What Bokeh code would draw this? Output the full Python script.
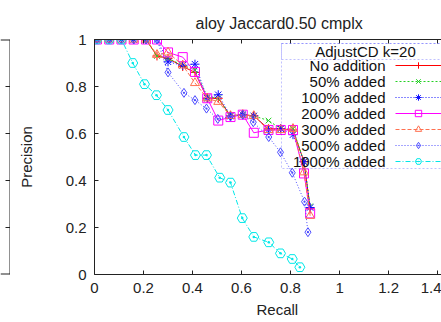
from bokeh.plotting import figure
from bokeh.layouts import row
from bokeh.models import (Range1d, FixedTicker, LinearAxis, Label, BoxAnnotation,
                          Legend, LegendItem, CustomJSTickFormatter, Span, Title)
from bokeh.embed import file_html
from bokeh.resources import INLINE

# ---------------- data ----------------
title_text = "aloy Jaccard0.50 cmplx"
x_label = "Recall"
y_label = "Precision"
legend_title = "AdjustCD k=20"
x_ticks = [0, 0.2, 0.4, 0.6, 0.8, 1.0, 1.2, 1.4]
y_ticks = [0, 0.2, 0.4, 0.6, 0.8, 1.0]

series_names = ["No addition", "50% added", "100% added", "200% added",
                "300% added", "500% added", "1000% added"]

recall_no = [0.01, 0.06, 0.11, 0.16, 0.21, 0.255, 0.30, 0.36, 0.41, 0.46, 0.505, 0.555, 0.605, 0.65, 0.71, 0.76, 0.81, 0.855, 0.88]
prec_no = [1, 1, 1, 1, 1, 0.93, 0.92, 0.885, 0.86, 0.75, 0.75, 0.675, 0.68, 0.675, 0.62, 0.62, 0.615, 0.48, 0.28]

recall_50 = [0.01, 0.06, 0.11, 0.16, 0.21, 0.255, 0.30, 0.36, 0.41, 0.46, 0.505, 0.555, 0.605, 0.65, 0.71, 0.76, 0.81, 0.855, 0.88]
prec_50 = [1, 1, 1, 1, 1, 0.93, 0.92, 0.89, 0.87, 0.755, 0.75, 0.675, 0.68, 0.675, 0.655, 0.62, 0.62, 0.48, 0.29]

recall_100 = [0.01, 0.06, 0.11, 0.16, 0.21, 0.255, 0.30, 0.36, 0.41, 0.46, 0.505, 0.555, 0.605, 0.65, 0.71, 0.76, 0.81, 0.855, 0.88]
prec_100 = [1, 1, 1, 1, 1, 1, 0.905, 0.89, 0.895, 0.75, 0.765, 0.675, 0.68, 0.675, 0.615, 0.62, 0.595, 0.48, 0.285]

recall_200 = [0.01, 0.06, 0.11, 0.16, 0.21, 0.255, 0.30, 0.36, 0.41, 0.46, 0.505, 0.555, 0.605, 0.65, 0.71, 0.76, 0.81, 0.855, 0.88]
prec_200 = [1, 1, 1, 1, 1, 1, 0.945, 0.925, 0.862, 0.75, 0.655, 0.67, 0.68, 0.603, 0.615, 0.615, 0.615, 0.43, 0.26]

recall_300 = [0.01, 0.06, 0.11, 0.16, 0.21, 0.255, 0.30, 0.36, 0.41, 0.46, 0.505, 0.555, 0.605, 0.65, 0.71, 0.76, 0.81, 0.855, 0.88]
prec_300 = [1, 1, 1, 1, 1, 0.935, 0.945, 0.89, 0.815, 0.75, 0.735, 0.675, 0.68, 0.675, 0.615, 0.615, 0.62, 0.435, 0.25]

recall_500 = [0.01, 0.06, 0.11, 0.16, 0.21, 0.255, 0.30, 0.365, 0.41, 0.457, 0.503, 0.555, 0.605, 0.648, 0.711, 0.759, 0.807, 0.857, 0.871]
prec_500 = [1, 1, 1, 1, 1, 1, 0.86, 0.773, 0.742, 0.706, 0.662, 0.672, 0.68, 0.648, 0.585, 0.52, 0.433, 0.31, 0.18]

recall_1000 = [0.01, 0.06, 0.11, 0.156, 0.204, 0.253, 0.30, 0.365, 0.412, 0.457, 0.511, 0.555, 0.603, 0.65, 0.711, 0.759, 0.807, 0.838]
prec_1000 = [1, 1, 1, 0.90, 0.81, 0.763, 0.70, 0.585, 0.508, 0.508, 0.412, 0.391, 0.24, 0.16, 0.137, 0.09, 0.066, 0.031]

recalls = [recall_no, recall_50, recall_100, recall_200, recall_300, recall_500, recall_1000]
precisions = [prec_no, prec_50, prec_100, prec_200, prec_300, prec_500, prec_1000]

# ---------------- styles ----------------
colors = ["#ff0000", "#22d022", "#1010ff", "#ff00ff", "#ff7050", "#4c4cff", "#00e8e8"]
dashes = ["solid", "2 2", "1 2", "solid", "4 2", "1 2", "5 2 1 2"]
markers = ["cross", "x", "asterisk", "square", "triangle", "diamond_dot", "hex_dot"]
msizes = [9, 8, 9, 9, 9, 9, 10]
FONT = "Liberation Sans"
INK = "#222222"

# ---- right edge of the neighbouring panel (cropped in the reference) ----
left_fig = figure(width=10, height=322, output_backend="svg", toolbar_location=None,
                  x_range=Range1d(0, 10), y_range=Range1d(0, 1), title=None,
                  min_border_left=0, min_border_right=0, min_border_top=39, min_border_bottom=45)
left_fig.axis.visible = False
left_fig.xgrid.visible = False
left_fig.ygrid.visible = False
left_fig.outline_line_color = None
left_fig.add_layout(Span(location=9.5, dimension="height", line_color=INK, line_width=1))
left_fig.add_layout(Span(location=1, dimension="width", line_color=INK, line_width=2))
left_fig.add_layout(Span(location=0, dimension="width", line_color=INK, line_width=2))
inner_ticks = y_ticks[1:-1]
left_fig.segment(x0=[5] * len(inner_ticks), x1=[10] * len(inner_ticks),
                 y0=inner_ticks, y1=inner_ticks, line_color=INK, line_width=1)

# ---- main panel ----
p = figure(width=431, height=322, output_backend="svg", toolbar_location=None,
           title=title_text,
           x_range=Range1d(0, 1.416), y_range=Range1d(0, 1),
           min_border_left=84, min_border_right=0, min_border_top=38, min_border_bottom=48)
p.outline_line_color = None
p.xgrid.visible = False
p.ygrid.visible = False
p.background_fill_color = "white"
p.border_fill_color = "white"

p.title.text_font = FONT
p.title.text_font_size = "16px"
p.title.text_font_style = "normal"
p.title.text_color = INK
p.title.align = "left"
p.title.offset = 101
p.title.standoff = 15

fmt = CustomJSTickFormatter(code="return tick.toFixed(1).replace(/\\.0$/, '');")

for ax, ticks in ((p.xaxis[0], x_ticks), (p.yaxis[0], y_ticks)):
    ax.ticker = FixedTicker(ticks=ticks)
    ax.formatter = fmt
    ax.major_tick_in = 4
    ax.major_tick_out = 0
    ax.minor_tick_line_color = None
    ax.axis_line_color = INK
    ax.major_tick_line_color = INK
    ax.major_label_text_font = FONT
    ax.major_label_text_font_size = "15px"
    ax.major_label_text_color = INK
    ax.major_label_standoff = 8

p.yaxis[0].axis_label = y_label
p.yaxis[0].axis_label_text_font = FONT
p.yaxis[0].axis_label_text_font_size = "15px"
p.yaxis[0].axis_label_text_font_style = "normal"
p.yaxis[0].axis_label_text_color = INK
p.yaxis[0].axis_label_standoff = 28

top_axis = LinearAxis(ticker=FixedTicker(ticks=x_ticks), major_tick_in=4, major_tick_out=0,
                      minor_tick_line_color=None, major_label_text_font_size="1px",
                      major_label_text_color=None, major_label_standoff=0,
                      axis_line_color=INK, major_tick_line_color=INK)
p.add_layout(top_axis, "above")

# x axis label as a bottom title so it can sit where gnuplot put it
p.add_layout(Title(text=x_label, align="left", offset=162, text_font=FONT,
                   text_font_size="15px", text_font_style="normal", text_color=INK,
                   standoff=6), "below")

items = []
for name, xs, ys, c, d, m, s in zip(series_names, recalls, precisions, colors, dashes, markers, msizes):
    r1 = p.line(xs, ys, line_color=c, line_dash=d, line_width=1)
    r2 = p.scatter(xs, ys, marker=m, size=s, line_color=c, fill_color=None, line_width=1)
    items.append(LegendItem(label="", renderers=[r1, r2]))

# key samples only (texts are placed right-aligned to their left, gnuplot style)
legend = Legend(items=items, location=(301, 105), glyph_width=46, glyph_height=16,
                spacing=0, padding=0, margin=0, label_standoff=0, label_width=0,
                label_height=16, label_text_font=FONT, label_text_font_size="15px",
                border_line_color=None, background_fill_alpha=0)
p.add_layout(legend)

for i, name in enumerate(series_names):
    p.add_layout(Label(x=291, y=274 - (65 + 16 * i), x_units="screen", y_units="screen",
                       text=name, text_align="right", text_baseline="middle",
                       text_font=FONT, text_font_size="15px", text_color="#111111"))
p.add_layout(Label(x=271, y=274 - 51, x_units="screen", y_units="screen",
                   text=legend_title, text_align="center", text_baseline="middle",
                   text_font=FONT, text_font_size="15px", text_color="#111111"))

# key boxes
for top_px, bot_px in ((43, 168), (43, 59)):
    p.add_layout(BoxAnnotation(left=187, right=360, top=274 - top_px, bottom=274 - bot_px,
                               left_units="screen", right_units="screen",
                               top_units="screen", bottom_units="screen",
                               fill_alpha=0, line_color="#3333ff", line_dash="2 2",
                               line_width=1))

page = row(left_fig, p)
open("out.html", "w").write(file_html(page, INLINE))
